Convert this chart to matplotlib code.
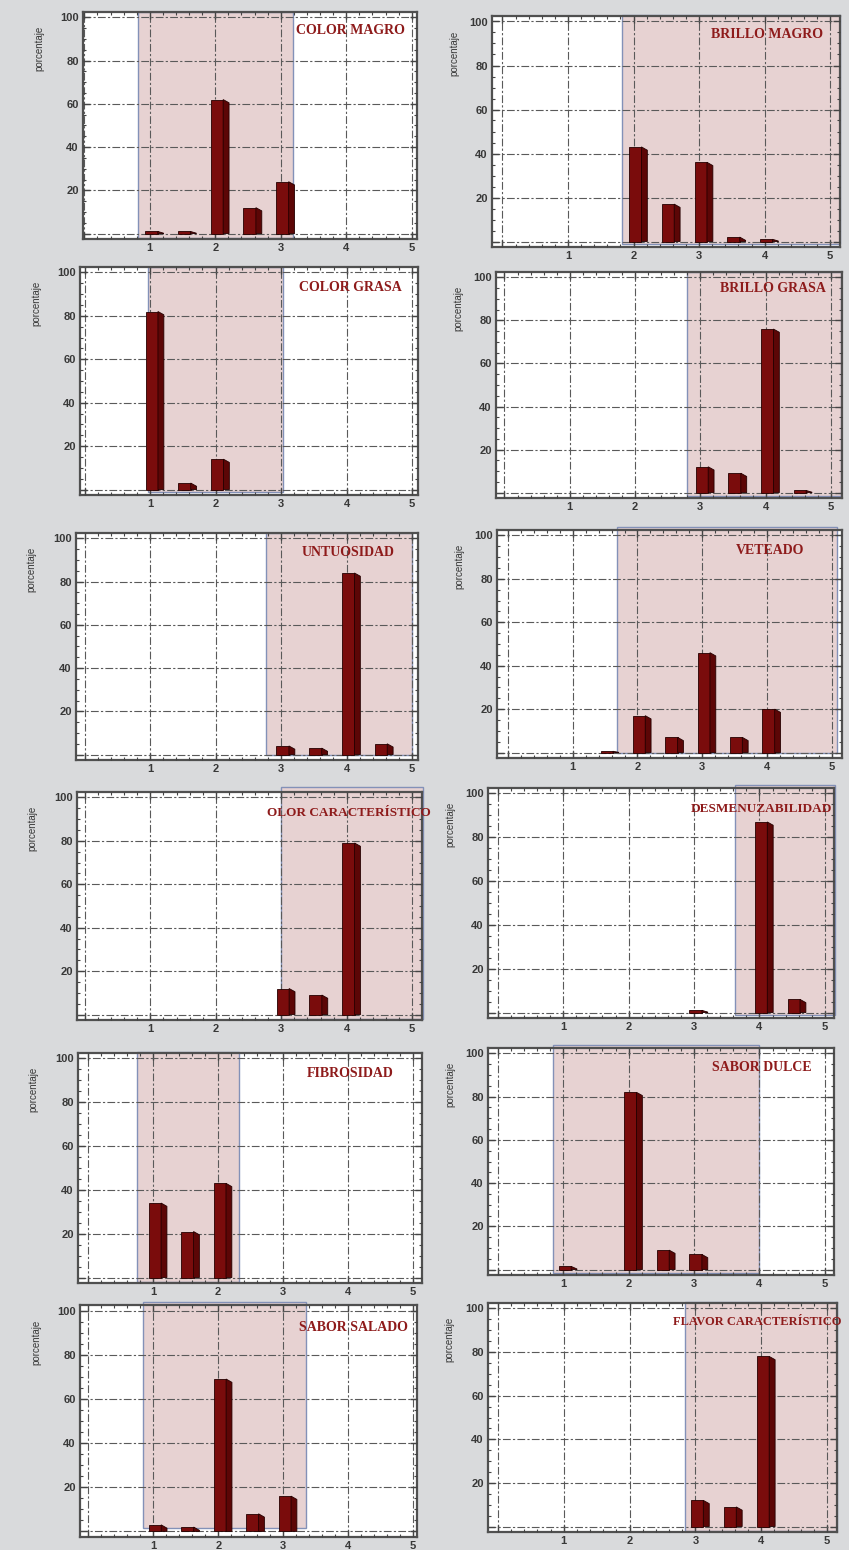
import numpy as np
import matplotlib
matplotlib.use("Agg")
import matplotlib.pyplot as plt
from matplotlib.patches import Rectangle, Polygon
from matplotlib.ticker import MultipleLocator, FuncFormatter

# ---------------- data ----------------
titles = ["COLOR MAGRO", "BRILLO MAGRO", "COLOR GRASA", "BRILLO GRASA",
          "UNTUOSIDAD", "VETEADO", "OLOR CARACTERÍSTICO", "DESMENUZABILIDAD",
          "FIBROSIDAD", "SABOR DULCE", "SABOR SALADO", "FLAVOR CARACTERÍSTICO"]

color_magro_x = [1, 1.5, 2, 2.5, 3]
color_magro_y = [1, 1, 62, 12, 24]
brillo_magro_x = [2, 2.5, 3, 3.5, 4]
brillo_magro_y = [43, 17, 36, 2, 1]
color_grasa_x = [1, 1.5, 2]
color_grasa_y = [82, 3, 14]
brillo_grasa_x = [3, 3.5, 4, 4.5]
brillo_grasa_y = [12, 9, 76, 1]
untuosidad_x = [3, 3.5, 4, 4.5]
untuosidad_y = [4, 3, 84, 5]
veteado_x = [1.5, 2, 2.5, 3, 3.5, 4]
veteado_y = [0.6, 17, 7, 46, 7, 20]
olor_x = [3, 3.5, 4]
olor_y = [12, 9, 79]
desmenuzabilidad_x = [3, 4, 4.5]
desmenuzabilidad_y = [1, 87, 6]
fibrosidad_x = [1, 1.5, 2]
fibrosidad_y = [34, 21, 43]
sabor_dulce_x = [1, 2, 2.5, 3]
sabor_dulce_y = [1.5, 82, 9, 7]
sabor_salado_x = [1, 1.5, 2, 2.5, 3]
sabor_salado_y = [3, 2, 69, 8, 16]
flavor_x = [3, 3.5, 4]
flavor_y = [12, 9, 78]

# shaded interval for each panel (x from, x to, y from, y to)
band_x0 = [0.82, 1.82, 0.97, 2.80, 2.77, 1.68, 2.99, 3.62, 0.75, 0.85, 0.84, 2.84]
band_x1 = [3.18, 5.15, 3.03, 5.16, 5.00, 5.09, 5.16, 5.15, 2.32, 4.00, 3.35, 5.15]
band_y0 = [-2, -1, -1, -1.5, 0, 0, -2, -1, -2, -1.5, 1.5, -2]
band_y1 = [102.5, 103, 102.5, 102.5, 102.5, 104, 105, 104, 103, 104, 104, 103]

series_x = [color_magro_x, brillo_magro_x, color_grasa_x, brillo_grasa_x,
            untuosidad_x, veteado_x, olor_x, desmenuzabilidad_x,
            fibrosidad_x, sabor_dulce_x, sabor_salado_x, flavor_x]
series_y = [color_magro_y, brillo_magro_y, color_grasa_y, brillo_grasa_y,
            untuosidad_y, veteado_y, olor_y, desmenuzabilidad_y,
            fibrosidad_y, sabor_dulce_y, sabor_salado_y, flavor_y]

# ---------------- layout ----------------
W, H = 849, 1550
boxes = [(83, 12, 417, 239), (492, 16, 840, 247),
         (80, 267, 418, 495), (496, 272, 842, 498),
         (76, 533, 418, 760), (497, 530, 842, 758),
         (77, 792, 422, 1020), (488, 788, 834, 1018),
         (78, 1053, 422, 1283), (488, 1048, 834, 1275),
         (80, 1305, 417, 1537), (488, 1303, 837, 1532)]
xlims = [(-0.02, 5.08), (-0.16, 5.15), (-0.07, 5.09), (-0.13, 5.17),
         (-0.13, 5.09), (-0.17, 5.16), (-0.12, 5.15), (-0.15, 5.14),
         (-0.16, 5.14), (-0.15, 5.14), (-0.13, 5.06), (-0.15, 5.15)]
title_pos = [(0.80, 0.92, 'center', 10), (0.79, 0.92, 'center', 10),
             (0.80, 0.91, 'center', 10), (0.80, 0.925, 'center', 10),
             (0.795, 0.915, 'center', 10), (0.79, 0.91, 'center', 10),
             (0.55, 0.91, 'left', 9.5), (0.79, 0.91, 'center', 9.5),
             (0.79, 0.91, 'center', 10), (0.79, 0.915, 'center', 10),
             (0.81, 0.905, 'center', 10), (0.53, 0.917, 'left', 9)]

FRONT = "#7a0c0c"
SIDE = "#5c0606"
EDGE = "#250000"
BAND = "#e7d2d2"
BAND_EDGE = "#8391b8"
TITLE_C = "#8e1b1b"
TXT = "#383838"
BG = "#d9dadc"

fig = plt.figure(figsize=(W / 100, H / 100), dpi=100)
fig.patch.set_facecolor(BG)

fw, sw, off = 0.19, 0.09, 0.07

for i in range(12):
    l, t, r, b = boxes[i]
    ax = fig.add_axes([l / W, 1 - b / H, (r - l) / W, (b - t) / H])
    ax.set_facecolor("white")
    ax.set_xlim(*xlims[i])
    ax.set_ylim(-2.5, 102.5)

    ax.add_patch(Rectangle((band_x0[i], band_y0[i]), band_x1[i] - band_x0[i],
                           band_y1[i] - band_y0[i], facecolor=BAND,
                           edgecolor=BAND_EDGE, lw=1.0, zorder=0.5,
                           clip_on=False))

    ax.xaxis.set_major_locator(MultipleLocator(1))
    ax.xaxis.set_minor_locator(MultipleLocator(0.2))
    ax.yaxis.set_major_locator(MultipleLocator(20))
    ax.yaxis.set_minor_locator(MultipleLocator(5))
    ax.xaxis.set_major_formatter(FuncFormatter(lambda v, p: "" if abs(v) < 1e-6 else f"{v:.0f}"))
    ax.yaxis.set_major_formatter(FuncFormatter(lambda v, p: "" if abs(v) < 1e-6 else f"{v:.0f}"))
    ax.grid(True, which="major", color="#5a5a5a", lw=0.8,
            linestyle=(0, (7, 2, 2, 2)), zorder=1)
    ax.set_axisbelow(False)
    ax.tick_params(which="both", direction="in", top=True, right=True,
                   color="#444444")
    ax.tick_params(which="major", length=5, width=1.0, labelsize=8,
                   labelcolor=TXT, pad=3)
    ax.tick_params(which="minor", length=2.5, width=0.8)
    for lab in ax.get_xticklabels() + ax.get_yticklabels():
        lab.set_fontweight("bold")
        lab.set_family("Liberation Sans")
    for sp in ax.spines.values():
        sp.set_color("#505050")
        sp.set_linewidth(1.6)

    xs = np.array(series_x[i], dtype=float)
    ys = np.array(series_y[i], dtype=float)
    ax.bar(xs - off, ys, width=fw, align="edge", color=FRONT,
           edgecolor=EDGE, lw=0.6, zorder=3)
    for xv, yv in zip(xs, ys):
        x1 = xv - off + fw
        s = min(1.5, yv * 0.8)
        ax.add_patch(Polygon([(x1, 0), (x1, yv), (x1 + sw, yv - s), (x1 + sw, 0)],
                             closed=True, facecolor=SIDE, edgecolor=EDGE,
                             lw=0.6, zorder=3))

    ax.set_ylabel("porcentaje", fontsize=7, color=TXT, family="Liberation Sans")
    ax.yaxis.set_label_coords(-0.115 if l < 300 else -0.095, 0.84)

    tx, ty, ha, fs = title_pos[i]
    ax.text(tx, ty, titles[i], transform=ax.transAxes, ha=ha, va="center",
            fontsize=fs, fontweight="bold", family="Liberation Serif",
            color=TITLE_C, zorder=5, clip_on=False)

fig.savefig("out.png", dpi=100, facecolor=fig.get_facecolor())
